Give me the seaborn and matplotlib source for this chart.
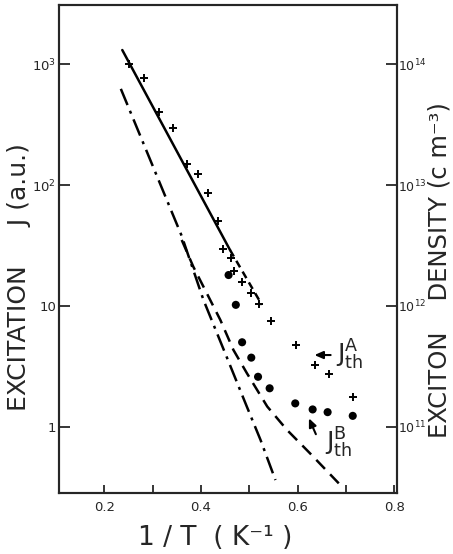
import numpy as np
import pandas as pd
import matplotlib
matplotlib.use("Agg")
import matplotlib.pyplot as plt
import seaborn as sns
from matplotlib.ticker import FixedLocator, FixedFormatter, NullLocator

# ---- data ----
cross_x = [0.250, 0.281, 0.312, 0.342, 0.371, 0.394, 0.414, 0.436, 0.445, 0.461,
           0.469, 0.485, 0.503, 0.521, 0.544, 0.597, 0.635, 0.664, 0.714]
cross_J = [1005, 766, 405, 299, 150, 123, 86.5, 50.4, 29.6, 25.1,
           19.6, 15.9, 12.9, 10.4, 7.54, 4.75, 3.24, 2.73, 1.75]

dot_x = [0.457, 0.472, 0.485, 0.504, 0.518, 0.542, 0.595, 0.631, 0.662, 0.714]
dot_J = [18.0, 10.2, 5.0, 3.73, 2.59, 2.08, 1.56, 1.39, 1.32, 1.23]

solid_x = [0.237, 0.460]
solid_J = [1310, 29]
solid_ext_x = [0.460, 0.526]
solid_ext_J = [29, 10.2]

dashdot_x = [0.234, 0.360, 0.405, 0.450, 0.495, 0.523, 0.554]
dashdot_J = [625, 37.9, 11.2, 4.05, 1.46, 0.78, 0.362]

dashed_x = [0.360, 0.384, 0.412, 0.440, 0.467, 0.495, 0.537, 0.578, 0.626, 0.695]
dashed_J = [35.1, 21.1, 12.7, 7.64, 4.32, 2.77, 1.47, 0.94, 0.60, 0.309]

x_ticks = [0.2, 0.3, 0.4, 0.5, 0.6, 0.7, 0.8]
x_ticklabels = ["0.2", "", "0.4", "", "0.6", "", "0.8"]
y_ticks = [1, 10, 100, 1000]
y_ticklabels = ["1", "10", r"$10^{2}$", r"$10^{3}$"]
y2_ticks = [1e11, 1e12, 1e13, 1e14]
y2_ticklabels = [r"$10^{11}$", r"$10^{12}$", r"$10^{13}$", r"$10^{14}$"]
density_factor = 1e11

# ---- style ----
sns.set_style("ticks")
plt.rcParams["font.family"] = ["DejaVu Sans"]
plt.rcParams["mathtext.fontset"] = "dejavusans"

W, H = 453, 554
fig = plt.figure(figsize=(W / 100, H / 100), dpi=100)
L, R, T, B = 59, 396.7, 5, 492.7
ax = fig.add_axes([L / W, 1 - B / H, (R - L) / W, (B - T) / H])

ax.set_yscale("log")
xlim = (0.106, 0.805)
ylim = (10 ** -0.546, 10 ** 3.49)

df_cross = pd.DataFrame({"x": cross_x, "J": cross_J})
df_dot = pd.DataFrame({"x": dot_x, "J": dot_J})

def line(xs, ys, **kw):
    sns.lineplot(x=xs, y=ys, ax=ax, sort=False, estimator=None, color="black", **kw)

line(solid_x, solid_J, linewidth=1.8)
line(solid_ext_x, solid_ext_J, linewidth=1.8, linestyle=(0, (3, 2)))
line(dashdot_x, dashdot_J, linewidth=1.8, linestyle=(0, (7, 2.5, 1.2, 2.5)))
line(dashed_x, dashed_J, linewidth=1.8, linestyle=(0, (5, 3)))

sns.scatterplot(data=df_cross, x="x", y="J", ax=ax, marker="+", s=30,
                color="black", linewidth=1.4, zorder=5)
sns.scatterplot(data=df_dot, x="x", y="J", ax=ax, marker="o", s=34,
                color="black", edgecolor="none", zorder=5)

ax.set_xlim(*xlim)
ax.set_ylim(*ylim)

ax.xaxis.set_major_locator(FixedLocator(x_ticks))
ax.xaxis.set_major_formatter(FixedFormatter(x_ticklabels))
ax.yaxis.set_major_locator(FixedLocator(y_ticks))
ax.yaxis.set_major_formatter(FixedFormatter(y_ticklabels))
ax.yaxis.set_minor_locator(NullLocator())
ax.xaxis.set_minor_locator(NullLocator())

ax.tick_params(axis="x", direction="in", length=6, width=1.3, labelsize=9.5, pad=6)
ax.tick_params(axis="y", direction="in", length=8, width=1.3, labelsize=9.5, pad=2)
for s in ax.spines.values():
    s.set_linewidth(1.5)
    s.set_visible(True)

ax2 = ax.twinx()
ax2.set_yscale("log")
ax2.set_ylim(ylim[0] * density_factor, ylim[1] * density_factor)
ax2.yaxis.set_major_locator(FixedLocator(y2_ticks))
ax2.yaxis.set_major_formatter(FixedFormatter(y2_ticklabels))
ax2.yaxis.set_minor_locator(NullLocator())
ax2.tick_params(axis="y", direction="in", length=8, width=1.3, labelsize=9, pad=1)
for s in ax2.spines.values():
    s.set_linewidth(1.5)

# axis labels
ax.set_xlabel("1 / T  ( K\u207b\u00b9 )", fontsize=19)
ax.xaxis.label.set_va("center")
ax.xaxis.set_label_coords((215 - L) / (R - L), (B - 538) / (B - T))

ax.set_ylabel("EXCITATION     J (a.u.)", fontsize=18)
ax.yaxis.label.set_va("center")
ax.yaxis.set_label_coords((19 - L) / (R - L), (B - 277.5) / (B - T))

ax2.set_ylabel("EXCITON    DENSITY (c m\u207b\u00b3)", fontsize=17.5, rotation=90)
ax2.yaxis.label.set_va("baseline")
ax2.yaxis.label.set_ha("center")
ax2.yaxis.set_label_coords((446 - L) / (R - L), (B - 270) / (B - T))

# annotations
ax.annotate("", xy=(0.629, 3.92), xytext=(0.674, 3.92),
            arrowprops=dict(arrowstyle="-|>,head_length=0.5,head_width=0.22",
                            color="black", lw=1.5))
ax.text(0.680, 3.92, r"$\mathregular{J^{A}_{th}}$", fontsize=18,
        ha="left", va="center")
ax.annotate("", xy=(0.621, 1.233), xytext=(0.640, 0.826),
            arrowprops=dict(arrowstyle="-|>,head_length=0.5,head_width=0.22",
                            color="black", lw=1.5))
ax.text(0.656, 0.733, r"$\mathregular{J^{B}_{th}}$", fontsize=18,
        ha="left", va="center")

fig.savefig("out.png", dpi=100)
